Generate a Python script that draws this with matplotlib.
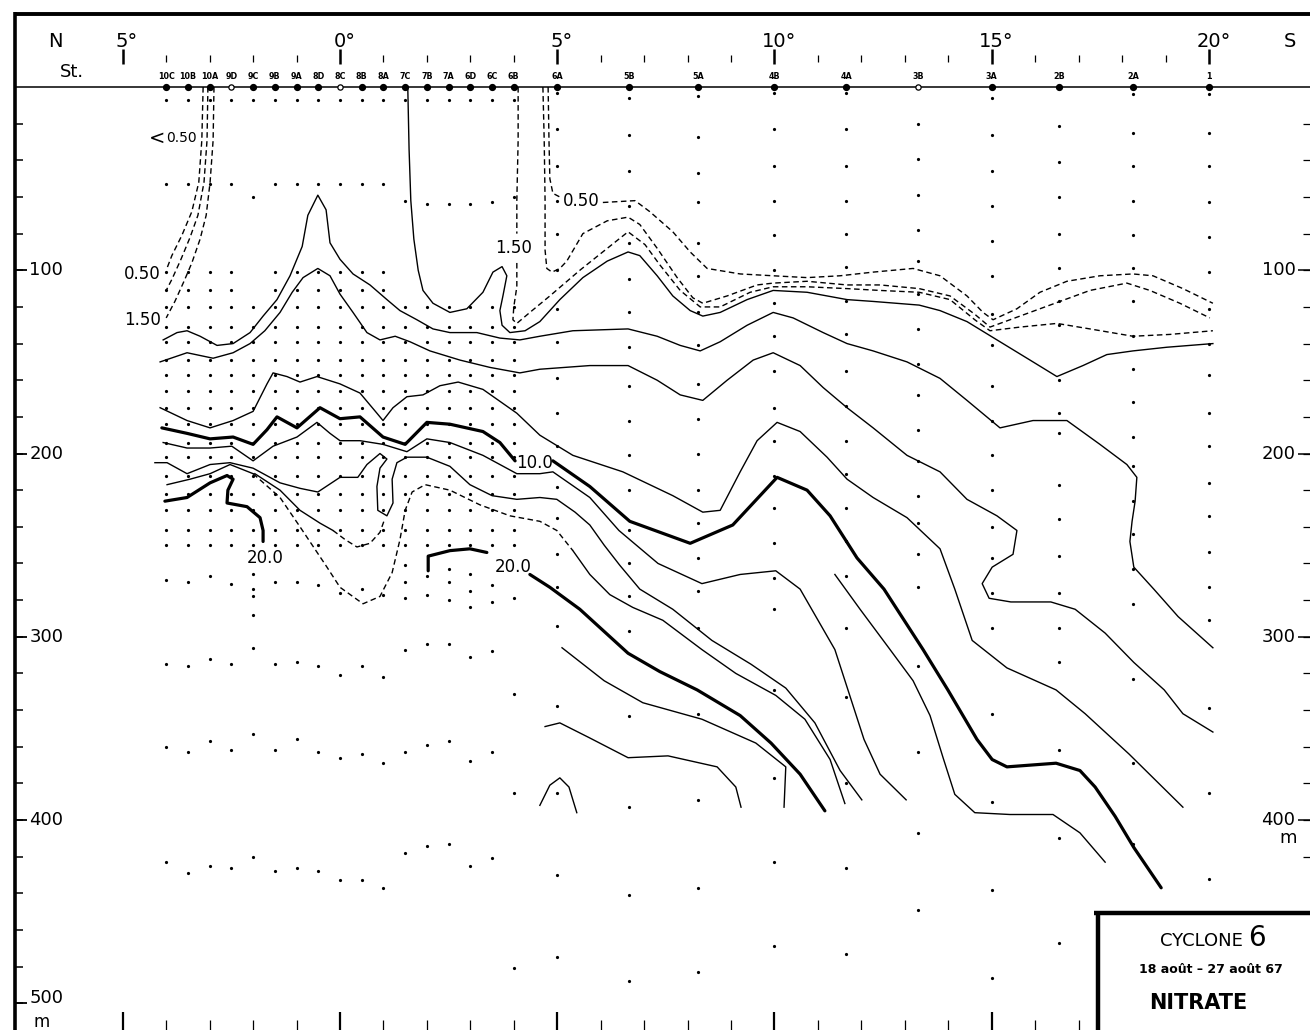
import matplotlib.pyplot as plt

plt.rcParams['font.family'] = ['DejaVu Sans']

# ---- stations (latitude in degrees, negative = north) ----
station_names = ['10C', '10B', '10A', '9D', '9C', '9B', '9A', '8D', '8C', '8B', '8A',
                 '7C', '7B', '7A', '6D', '6C', '6B', '6A', '5B', '5A', '4B', '4A',
                 '3B', '3A', '2B', '2A', '1']
station_lat = [-4.0, -3.5, -3.0, -2.5, -2.0, -1.5, -1.0, -0.5, 0.0, 0.5, 1.0,
               1.5, 2.0, 2.5, 3.0, 3.5, 4.0, 5.0, 6.65, 8.25, 10.0, 11.65,
               13.3, 15.0, 16.55, 18.25, 20.0]
open_stations = ['9D', '8C', '3B']

# ---- sample depths (m) ----
north_second = [53, 53, 53, 53, 60, 53, 53, 53, 53, 53, 53, 62, 64, 64, 64, 63, 60]
dense_depths = [101, 111, 120, 131, 139, 149, 157, 166, 175, 184, 194, 202, 212, 222,
                231, 242, 250]
dense_start = [101, 101, 101, 101, 120, 101, 101, 101, 101, 101, 101, 120, 120, 120,
               120, 120, 120]
north_deep = [[269, 315, 360, 423], [270, 316, 363, 429], [267, 312, 357, 425],
              [271, 315, 362, 426], [266, 274, 278, 288, 306, 353, 420],
              [270, 315, 362, 428], [270, 314, 356, 426], [272, 316, 363, 428],
              [276, 321, 366, 433], [274, 316, 364, 433], [277, 322, 369, 437],
              [261, 270, 279, 307, 363, 418], [267, 277, 304, 359, 414],
              [263, 270, 280, 304, 357, 413], [266, 275, 284, 311, 368, 425],
              [272, 281, 308, 363, 421], [279, 331, 385, 481]]
south_depths = [
    [3, 23, 43, 62, 80, 100, 121, 139, 159, 178, 196, 218, 235, 255, 273, 294, 338, 385, 430, 475],
    [6, 26, 46, 65, 85, 105, 123, 142, 163, 182, 201, 220, 242, 260, 278, 297, 343, 393, 441, 488],
    [5, 27, 47, 63, 85, 103, 123, 141, 162, 181, 200, 220, 238, 257, 275, 295, 342, 389, 437, 483],
    [3, 23, 43, 62, 81, 100, 118, 136, 155, 175, 193, 212, 230, 249, 268, 285, 329, 377, 423, 469],
    [3, 23, 43, 62, 80, 98, 117, 135, 155, 174, 193, 211, 230, 248, 267, 295, 333, 380, 426, 473],
    [20, 39, 59, 78, 95, 113, 132, 151, 168, 187, 204, 223, 238, 255, 273, 316, 363, 407, 449],
    [6, 26, 46, 65, 84, 103, 124, 141, 163, 182, 201, 220, 240, 257, 276, 295, 342, 390, 438, 486],
    [21, 41, 60, 80, 99, 117, 130, 160, 178, 189, 217, 236, 256, 276, 295, 314, 362, 410, 467],
    [4, 25, 43, 62, 81, 99, 117, 136, 154, 172, 191, 207, 226, 244, 263, 282, 323, 369, 413],
    [4, 25, 43, 63, 82, 101, 121, 140, 157, 178, 196, 216, 234, 254, 273, 291, 339, 385, 432],
]

# ---- isolines (lat, depth) ----
iso_050_n = [(-3.15, 0), (-3.18, 29), (-3.25, 52), (-3.41, 68), (-3.64, 81), (-3.87, 92), (-4.00, 100)]
iso_100_n = [(-3.04, 0), (-3.06, 29), (-3.13, 52), (-3.27, 70), (-3.45, 82), (-3.66, 94), (-3.87, 105), (-4.00, 111)]
iso_150_n = [(-2.90, 0), (-2.92, 29), (-2.99, 52), (-3.08, 70), (-3.22, 83), (-3.41, 96), (-3.59, 106), (-3.80, 117), (-4.00, 126)]

iso_050_a = [(4.79, 0), (4.81, 29), (4.83, 50), (4.90, 58), (5.06, 60)]
iso_050_b = [(6.05, 63), (6.79, 62), (7.13, 68), (7.66, 79), (8.06, 90), (8.45, 99), (9.21, 102), (9.97, 103),
             (10.75, 104), (11.51, 103), (12.27, 101), (13.19, 99), (13.81, 103), (14.43, 114), (14.80, 123),
             (15.03, 127), (15.58, 121), (16.11, 112), (16.73, 106), (17.49, 103), (18.25, 102), (18.71, 103),
             (19.40, 110), (20.09, 118)]
iso_100_s = [(4.67, 0), (4.70, 29), (4.72, 62), (4.72, 89), (4.76, 99), (4.88, 101), (5.06, 99), (5.22, 95),
             (5.59, 80), (6.15, 73), (6.63, 71), (6.90, 75), (7.30, 88), (7.76, 104), (8.12, 115), (8.35, 118),
             (8.91, 114), (9.60, 108), (9.97, 107), (10.75, 106), (11.67, 108), (12.43, 108), (13.33, 110),
             (14.04, 114), (14.61, 124), (14.96, 131), (15.65, 125), (16.34, 119), (17.26, 111), (18.11, 107),
             (18.64, 111), (19.33, 118), (20.02, 126)]
iso_150_a = [(4.10, 0), (4.10, 29), (4.07, 62), (4.07, 80)]
iso_150_b = [(4.07, 96), (4.07, 109), (4.00, 120), (3.98, 127), (4.07, 129), (4.37, 123), (4.83, 114),
             (5.52, 100), (6.10, 89), (6.63, 79), (7.02, 86), (7.36, 97), (7.83, 111), (8.29, 120), (8.75, 120),
             (9.44, 112), (9.97, 109), (10.75, 109), (11.67, 110), (12.43, 111), (13.33, 112), (14.04, 116),
             (14.61, 127), (14.96, 133), (15.65, 131), (16.50, 129), (17.26, 132), (18.25, 136), (19.10, 135),
             (20.09, 133)]
iso_a = [(1.56, 0), (1.59, 34), (1.63, 62), (1.70, 83), (1.80, 100), (1.91, 111), (2.14, 118), (2.53, 123),
         (2.92, 121), (3.29, 112), (3.52, 101), (3.73, 98), (3.84, 103), (3.75, 114), (3.68, 122), (3.73, 130),
         (3.91, 134), (4.26, 133), (4.60, 128), (5.06, 116), (5.59, 104), (6.15, 95), (6.63, 90), (6.90, 92),
         (7.30, 103), (7.66, 114), (8.06, 122), (8.35, 125), (8.75, 123), (9.37, 116), (9.97, 111),
         (10.75, 112), (11.67, 116), (12.27, 117), (13.33, 119), (13.81, 122), (14.43, 128), (15.19, 139),
         (15.95, 150), (16.50, 158), (17.10, 152), (17.65, 146), (18.25, 144), (19.03, 142), (20.09, 140)]
iso_b = [(-4.07, 138), (-3.75, 134), (-3.52, 133), (-3.22, 136), (-2.83, 141), (-2.46, 140), (-2.07, 134),
         (-1.77, 125), (-1.45, 116), (-1.15, 103), (-0.87, 87), (-0.74, 70), (-0.51, 59), (-0.32, 67),
         (-0.23, 85), (0.0, 94), (0.30, 102), (0.69, 108), (1.08, 116), (1.38, 122), (1.77, 127), (2.14, 132),
         (2.53, 134), (3.15, 134), (3.68, 137), (4.14, 138), (4.60, 136), (5.36, 133), (6.63, 132), (7.30, 136),
         (7.83, 141), (8.29, 144), (8.75, 139), (9.37, 130), (9.97, 123), (10.43, 126), (11.12, 134),
         (11.67, 140), (12.27, 144), (13.05, 150), (13.81, 159), (14.43, 171), (15.19, 186), (15.95, 182),
         (16.73, 182), (17.49, 195), (18.11, 206), (18.34, 213), (18.30, 226), (18.23, 237), (18.18, 248),
         (18.27, 262), (18.73, 274), (19.29, 289), (20.09, 306)]
iso_c = [(-4.14, 150), (-3.52, 145), (-2.92, 148), (-2.46, 145), (-2.07, 140), (-1.73, 133), (-1.38, 123),
         (-1.10, 112), (-0.85, 104), (-0.51, 99), (-0.23, 103), (0.0, 113), (0.30, 123), (0.62, 134),
         (0.92, 138), (1.27, 136), (1.61, 139), (2.07, 144), (2.76, 149), (3.45, 153), (4.14, 156), (4.60, 154),
         (5.75, 152), (6.63, 152), (7.30, 160), (7.83, 168), (8.35, 171), (8.91, 160), (9.51, 149), (9.97, 145),
         (10.59, 152), (11.12, 164), (11.67, 175), (12.27, 186), (13.05, 201), (13.81, 210), (14.43, 225),
         (15.12, 234), (15.58, 242), (15.49, 255), (15.01, 262), (14.78, 271), (14.94, 279), (15.44, 281),
         (16.36, 281), (16.92, 285), (17.61, 298), (18.27, 314), (18.97, 329), (19.40, 342), (20.09, 352)]
iso_d = [(-4.14, 175), (-3.52, 182), (-2.99, 186), (-2.46, 182), (-2.00, 177), (-1.68, 162), (-1.54, 156),
         (-1.22, 158), (-0.92, 161), (-0.53, 158), (0.0, 162), (0.46, 167), (0.85, 178), (0.99, 182),
         (1.22, 175), (1.54, 169), (1.91, 168), (2.30, 163), (2.72, 161), (3.29, 165), (4.07, 178), (4.60, 190),
         (5.36, 201), (6.51, 210), (7.66, 223), (8.35, 232), (8.75, 231), (9.21, 210), (9.60, 193), (10.06, 183),
         (10.59, 188), (11.21, 202), (11.67, 214), (12.27, 224), (13.05, 235), (13.81, 252), (14.15, 274),
         (14.55, 302), (15.35, 317), (16.48, 329), (17.15, 342), (18.16, 364), (19.40, 393)]
iso_10_a = [(-4.10, 186), (-3.52, 189), (-2.99, 192), (-2.46, 191), (-2.00, 195), (-1.68, 187), (-1.45, 180),
            (-0.99, 186), (-0.46, 175), (0.0, 181), (0.46, 180), (0.99, 191), (1.50, 195), (2.00, 183),
            (2.53, 184), (3.29, 188), (3.68, 194), (4.03, 204)]
iso_10_b = [(4.90, 204), (5.75, 218), (6.67, 237), (8.06, 249), (9.04, 239), (10.06, 213), (10.75, 220),
            (11.28, 234), (11.90, 257), (12.52, 274), (13.42, 307), (13.99, 329), (14.66, 356), (15.01, 367),
            (15.35, 371), (16.48, 369), (17.03, 373), (17.38, 382), (17.84, 398), (18.27, 415), (18.90, 437)]
iso_e = [(-4.07, 194), (-3.52, 197), (-2.99, 197), (-2.49, 196), (-2.00, 204), (-1.54, 196), (-0.99, 191),
         (-0.53, 183), (-0.23, 189), (0.0, 193), (0.46, 193), (0.99, 195), (1.54, 199), (2.00, 192),
         (2.53, 194), (3.29, 201), (4.07, 211), (4.60, 211), (4.90, 210), (5.75, 224), (6.42, 242),
         (7.32, 260), (8.33, 271), (9.21, 266), (10.03, 264), (10.59, 274), (11.39, 307), (12.06, 356),
         (12.43, 375), (13.03, 389)]
iso_f = [(-4.26, 205), (-3.98, 205), (-3.52, 211), (-2.99, 206), (-2.53, 205), (-2.00, 208), (-1.38, 216),
         (-0.92, 219), (-0.51, 221), (0.0, 213), (0.41, 213), (0.62, 206), (0.92, 200), (1.08, 203),
         (0.92, 208), (0.85, 218), (0.87, 231), (1.08, 234), (1.22, 227), (1.20, 214), (1.31, 205),
         (1.54, 202), (2.00, 202), (2.53, 207), (2.99, 217), (3.50, 223), (4.07, 225), (4.60, 224),
         (4.99, 225), (5.41, 232), (5.75, 239), (6.08, 250), (6.44, 261), (6.90, 274), (7.66, 285),
         (8.56, 302), (9.46, 315), (10.26, 328), (10.93, 347), (11.51, 373), (12.01, 389)]
iso_g_solid = [(-3.98, 217), (-3.45, 214), (-2.99, 211), (-2.53, 206), (-2.00, 211)]
iso_g_dash = [(-2.00, 211), (-1.38, 224), (-0.92, 240), (-0.30, 262), (0.0, 273), (0.53, 282), (0.92, 278),
              (1.20, 265), (1.38, 247), (1.50, 231), (1.66, 221), (1.96, 217), (2.53, 220), (3.22, 228),
              (3.91, 234), (4.60, 237), (4.99, 242), (5.36, 253)]
iso_g_south = [(5.36, 253), (5.75, 266), (6.21, 277), (6.74, 284), (7.43, 291), (8.33, 307), (9.11, 320),
               (10.03, 332), (10.70, 345), (11.28, 367), (11.62, 391)]
iso_h_solid = [(-1.96, 211), (-1.38, 220), (-0.92, 231), (-0.46, 238), (-0.16, 242)]
iso_h_dash = [(-0.16, 242), (0.12, 247), (0.39, 251), (0.69, 249), (0.92, 243), (1.01, 237)]
iso_20_a = [(-4.03, 226), (-3.52, 224), (-2.99, 216), (-2.60, 212), (-2.46, 214), (-2.58, 220), (-2.60, 227),
            (-2.14, 229), (-1.84, 235), (-1.77, 242), (-1.77, 248)]
iso_20_b = [(2.03, 264), (2.03, 256), (2.53, 253), (2.99, 252), (3.38, 254)]
iso_20_c = [(4.37, 266), (4.83, 273), (5.52, 285), (6.63, 309), (7.36, 319), (8.22, 329), (9.21, 343),
            (9.92, 358), (10.59, 375), (11.16, 395)]
iso_i = [(11.39, 266), (11.97, 285), (12.66, 307), (13.19, 324), (13.58, 343), (13.88, 366), (14.15, 386),
         (14.61, 396), (15.42, 397), (16.41, 397), (17.03, 407), (17.61, 423)]
iso_j = [(5.11, 306), (6.08, 324), (6.97, 336), (8.33, 345), (9.57, 358), (10.26, 371), (10.22, 393)]
iso_k = [(4.72, 349), (5.06, 347), (5.73, 355), (6.63, 366), (7.55, 365), (8.68, 371), (9.11, 382), (9.23, 393)]
iso_l = [(4.60, 392), (4.83, 381), (5.06, 377), (5.27, 382), (5.45, 396)]

thin_solid = [iso_a, iso_b, iso_c, iso_d, iso_e, iso_f, iso_g_solid, iso_g_south, iso_h_solid,
              iso_i, iso_j, iso_k, iso_l]
thin_dashed = [iso_050_n, iso_100_n, iso_150_n, iso_050_a, iso_050_b, iso_100_s, iso_150_a, iso_150_b,
               iso_g_dash, iso_h_dash]
thick_solid = [iso_10_a, iso_10_b, iso_20_a, iso_20_b, iso_20_c]

depth_labels = [100, 200, 300, 400, 500]
top_labels = [(-5, '5°'), (0, '0°'), (5, '5°'), (10, '10°'), (15, '15°'), (20, '20°')]

# ---- figure ----
fig = plt.figure(figsize=(13.1, 10.3), dpi=100)
ax = fig.add_axes([0, 0, 1, 1])
ax.set_xlim(-7.825, 22.325)
ax.set_ylim(514.6, -47.5)
ax.axis('off')

LEFT = -7.48
RIGHT = 22.4

# frame
ax.plot([LEFT, RIGHT], [-39.8, -39.8], color='k', lw=2.8, solid_capstyle='butt')
ax.plot([LEFT, LEFT], [-41, 520], color='k', lw=2.6, solid_capstyle='butt')
ax.plot([LEFT, RIGHT], [0, 0], color='k', lw=1.1)

# latitude ticks (top and bottom)
for lat in range(-5, 21):
    if lat % 5 == 0:
        ax.plot([lat, lat], [-21, -12.5], color='k', lw=1.8, solid_capstyle='butt')
        if lat <= 15:
            ax.plot([lat, lat], [505, 515], color='k', lw=1.6, solid_capstyle='butt')
    else:
        ax.plot([lat, lat], [-17.5, -13.5], color='k', lw=0.9, solid_capstyle='butt')
        if lat <= 17:
            ax.plot([lat, lat], [509, 515], color='k', lw=0.9, solid_capstyle='butt')
for lat, txt in top_labels:
    ax.text(lat + 0.1, -25, txt, ha='center', va='center', fontsize=14)
ax.text(-6.56, -25, 'N', ha='center', va='center', fontsize=14)
ax.text(21.86, -25, 'S', ha='center', va='center', fontsize=14)
ax.text(-6.17, -8, 'St.', ha='center', va='center', fontsize=13)

# stations
for name, lat in zip(station_names, station_lat):
    ax.text(lat, -5.6, name, ha='center', va='center', fontsize=5.8, fontweight='bold')
    if name in open_stations:
        ax.plot(lat, 0, 'o', ms=3.8, mfc='white', mec='k', mew=0.9)
    else:
        ax.plot(lat, 0, 'o', ms=4.2, color='k')

# depth axis left and right
for d in range(20, 501, 20):
    ax.plot([LEFT, -7.29], [d, d], color='k', lw=1.1, solid_capstyle='butt')
    if d <= 420:
        ax.plot([22.16, RIGHT], [d, d], color='k', lw=0.9, solid_capstyle='butt')
for d in depth_labels:
    ax.plot([LEFT, -7.2], [d, d], color='k', lw=1.3, solid_capstyle='butt')
    ax.text(-7.15, d - 3 if d == 500 else d, str(d), ha='left', va='center', fontsize=13)
    if d < 500:
        ax.plot([22.05, RIGHT], [d, d], color='k', lw=1.1, solid_capstyle='butt')
        ax.text(21.99, d, str(d), ha='right', va='center', fontsize=13)
ax.text(-6.86, 510, 'm', ha='center', va='center', fontsize=12)
ax.text(21.82, 410, 'm', ha='center', va='center', fontsize=13)

# sample dots
for i in range(17):
    lat = station_lat[i]
    deps = [7, north_second[i]] + [d for d in dense_depths if d >= dense_start[i]] + north_deep[i]
    ax.plot([lat] * len(deps), deps, 'o', ms=2.3, color='k', mew=0)
for lat, deps in zip(station_lat[17:], south_depths):
    ax.plot([lat] * len(deps), deps, 'o', ms=2.3, color='k', mew=0)

# isolines
for line in thin_solid:
    xs, ys = zip(*line)
    ax.plot(xs, ys, color='k', lw=1.0)
for line in thin_dashed:
    xs, ys = zip(*line)
    ax.plot(xs, ys, color='k', lw=1.0, dashes=(4, 2.5))
for line in thick_solid:
    xs, ys = zip(*line)
    ax.plot(xs, ys, color='k', lw=2.3, solid_capstyle='round')

# isoline labels
ax.text(-4.03, 28, '<', ha='right', va='center', fontsize=14)
ax.text(-4.0, 28, '0.50', ha='left', va='center', fontsize=10)
ax.text(-4.12, 102, '0.50', ha='right', va='center', fontsize=12)
ax.text(-4.12, 127, '1.50', ha='right', va='center', fontsize=12)
ax.text(5.56, 62, '0.50', ha='center', va='center', fontsize=12)
ax.text(4.0, 88, '1.50', ha='center', va='center', fontsize=12)
ax.text(4.47, 205, '10.0', ha='center', va='center', fontsize=12)
ax.text(-1.73, 257, '20.0', ha='center', va='center', fontsize=12)
ax.text(3.98, 262, '20.0', ha='center', va='center', fontsize=12)

# title box
ax.plot([17.45, 17.45], [449.5, 520], color='k', lw=3.2, solid_capstyle='butt')
ax.plot([17.35, RIGHT], [450.7, 450.7], color='k', lw=3.2, solid_capstyle='butt')
ax.text(20.78, 466, 'CYCLONE', ha='right', va='center', fontsize=13)
ax.text(20.9, 464.5, '6', ha='left', va='center', fontsize=20)
ax.text(20.05, 481.5, '18 août – 27 août 67', ha='center', va='center', fontsize=9,
        fontweight='bold')
ax.text(19.75, 500, 'NITRATE', ha='center', va='center', fontsize=15, fontweight='bold')

fig.savefig('out.png', dpi=100)
